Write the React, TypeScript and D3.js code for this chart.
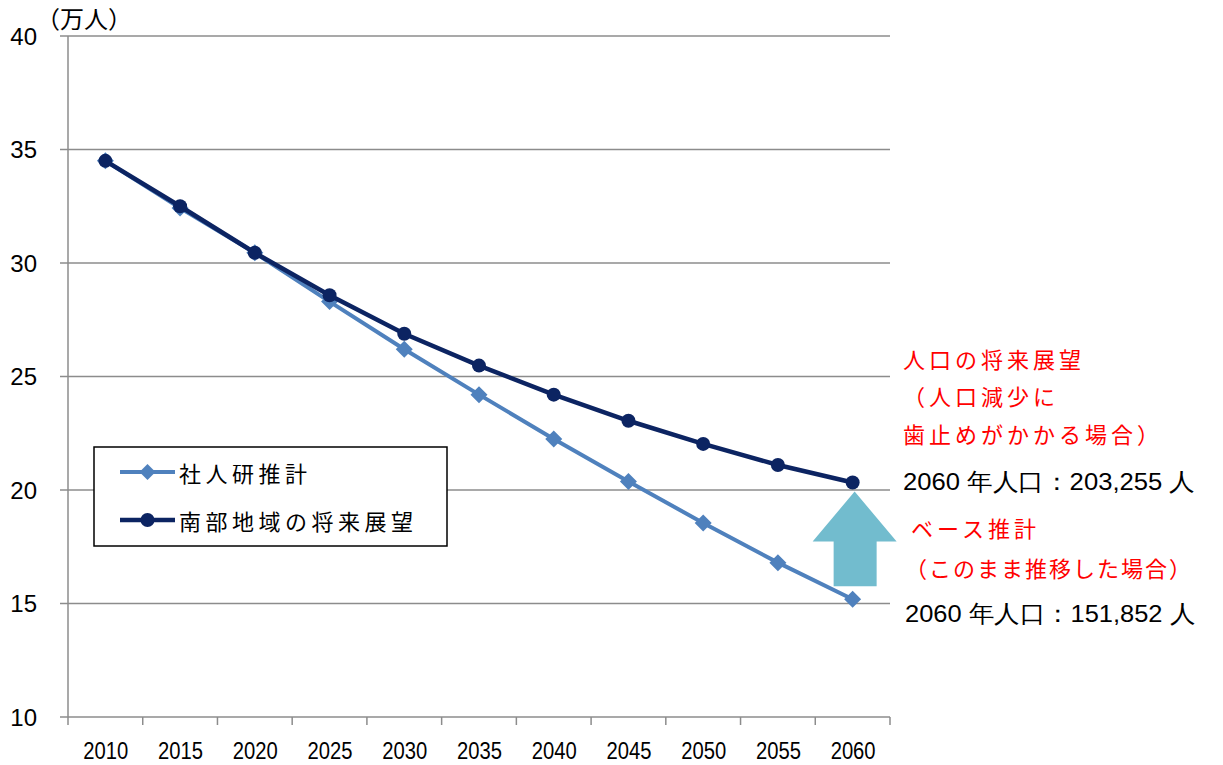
import React from "react";
import * as d3 from "d3";

const years = ["2010","2015","2020","2025","2030","2035","2040","2045","2050","2055","2060"];
const ipssValues = [34.5, 32.42, 30.45, 28.3, 26.2, 24.2, 22.25, 20.37, 18.55, 16.8, 15.19];
const outlookValues = [34.5, 32.5, 30.45, 28.58, 26.88, 25.48, 24.2, 23.05, 22.03, 21.1, 20.33];
const yTicks = [10, 15, 20, 25, 30, 35, 40];
const seriesNames = ["社人研推計", "南部地域の将来展望"];
const unitLabel = "（万人）";
const outlookNote = ["人口の将来展望", "（人口減少に", "歯止めがかかる場合）"];
const outlookResult = "2060 年人口：203,255 人";
const baseNote = ["ベース推計", "（このまま推移した場合）"];
const baseResult = "2060 年人口：151,852 人";

const W = 1223, H = 765;
const L = 68, R = 890, T = 36, B = 717;
const LIGHT = "#4F81BD", DARK = "#0C2462", GRID = "#8C8C8C", ARROW = "#72BCCE";
const CJK = "'Noto Sans CJK JP', sans-serif";
const NUM = "'Liberation Sans', Arial, sans-serif";
const LAT = "'Liberation Sans', Arial, sans-serif";

export default function App() {
  const x = d3.scaleBand<string>().domain(years).range([L, R]);
  const y = d3.scaleLinear().domain([10, 40]).range([B, T]);
  const cx = (d: string) => (x(d) ?? 0) + x.bandwidth() / 2;
  const line = d3.line<number>().x((_, i) => cx(years[i])).y((v) => y(v));
  const diamond = (px: number, py: number, s: number) =>
    `M${px},${py - s}L${px + s},${py}L${px},${py + s}L${px - s},${py}Z`;

  const ax = cx("2060") + 2;
  const tipY = y(outlookValues[10]) + 9;
  const baseY = y(ipssValues[10]) - 13;
  const headY = tipY + 50;
  const arrowPath = `M${ax},${tipY}L${ax + 42},${headY}L${ax + 22},${headY}L${ax + 22},${baseY}L${ax - 21},${baseY}L${ax - 21},${headY}L${ax - 42},${headY}Z`;

  const noteX = 903;
  return (
    <svg width={W} height={H} style={{ position: "absolute", left: 0, top: 0, background: "#fff" }}>
      {yTicks.map((t) => (
        <line key={t} x1={L - 8} x2={R} y1={y(t)} y2={y(t)} stroke={GRID} strokeWidth={1.5} />
      ))}
      <line x1={L} x2={L} y1={T} y2={B} stroke={GRID} strokeWidth={1.5} />
      {years.map((yr) => (
        <line key={"t" + yr} x1={x(yr)} x2={x(yr)} y1={B} y2={B + 8} stroke={GRID} strokeWidth={1.5} />
      ))}
      <line x1={R} x2={R} y1={B} y2={B + 8} stroke={GRID} strokeWidth={1.5} />
      {yTicks.map((t) => (
        <text key={"yl" + t} x={37} y={y(t)} textAnchor="end" dominantBaseline="central"
          fontFamily={LAT} fontSize={24} fill="#000">{t}</text>
      ))}
      <text x={36} y={28} fontFamily={CJK} fontSize={24} fill="#000">{unitLabel}</text>
      {years.map((yr) => (
        <text key={"xl" + yr} x={cx(yr) - 22} y={751} dominantBaseline="central"
          fontFamily={LAT} fontSize={23} textLength={45} lengthAdjust="spacingAndGlyphs" fill="#000">{yr}</text>
      ))}
      <path d={arrowPath} fill={ARROW} />
      <path d={line(ipssValues) ?? ""} fill="none" stroke={LIGHT} strokeWidth={4} />
      {ipssValues.map((v, i) => (
        <path key={"d" + i} d={diamond(cx(years[i]), y(v), 8.5)} fill={LIGHT} />
      ))}
      <path d={line(outlookValues) ?? ""} fill="none" stroke={DARK} strokeWidth={4.5} />
      {outlookValues.map((v, i) => (
        <circle key={"c" + i} cx={cx(years[i])} cy={y(v)} r={7} fill={DARK} />
      ))}
      <rect x={94} y={447} width={353} height={99} fill="#fff" stroke="#000" strokeWidth={1.5} />
      <line x1={120} x2={175} y1={472} y2={472} stroke={LIGHT} strokeWidth={4} />
      <path d={diamond(147.5, 472, 8)} fill={LIGHT} />
      <text x={179} y={472} dominantBaseline="central" fontFamily={CJK} fontSize={22} letterSpacing={4.5} fill="#000">{seriesNames[0]}</text>
      <line x1={120} x2={175} y1={520} y2={520} stroke={DARK} strokeWidth={4.5} />
      <circle cx={147.5} cy={520} r={7} fill={DARK} />
      <text x={179} y={520} dominantBaseline="central" fontFamily={CJK} fontSize={22} letterSpacing={4.5} fill="#000">{seriesNames[1]}</text>
      {outlookNote.map((s, i) => (
        <text key={"on" + i} x={noteX} y={[368, 405, 443][i]} fontFamily={CJK} fontSize={22} letterSpacing={4} fill="#FF0000">{s}</text>
      ))}
      <text x={noteX} y={490} fontFamily={NUM} fontSize={24} textLength={292} lengthAdjust="spacingAndGlyphs" fill="#000">{outlookResult}</text>
      {baseNote.map((s, i) => (
        <text key={"bn" + i} x={[911, 905][i]} y={[537, 577][i]} fontFamily={CJK} fontSize={22} letterSpacing={i === 0 ? 4 : 2} fill="#FF0000">{s}</text>
      ))}
      <text x={905} y={622} fontFamily={NUM} fontSize={24} textLength={290} lengthAdjust="spacingAndGlyphs" fill="#000">{baseResult}</text>
    </svg>
  );
}
